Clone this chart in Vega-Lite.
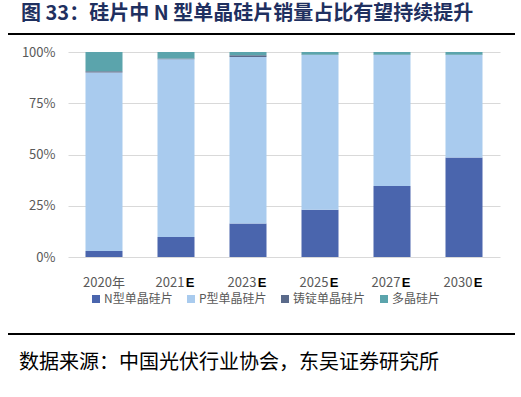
{
  "$schema": "https://vega.github.io/schema/vega-lite/v6.json",
  "padding": {"left": 7, "right": 7, "top": 4, "bottom": 0},
  "spacing": 0,
  "datasets": {
    "shares": [
      {"year": "2020年", "type": "N型单晶硅片", "k": 1, "value": 2.9},
      {"year": "2020年", "type": "P型单晶硅片", "k": 2, "value": 87.1},
      {"year": "2020年", "type": "铸锭单晶硅片", "k": 3, "value": 0.6},
      {"year": "2020年", "type": "多晶硅片", "k": 4, "value": 9.4},
      {"year": "2021", "type": "N型单晶硅片", "k": 1, "value": 9.8},
      {"year": "2021", "type": "P型单晶硅片", "k": 2, "value": 86.7},
      {"year": "2021", "type": "铸锭单晶硅片", "k": 3, "value": 0.3},
      {"year": "2021", "type": "多晶硅片", "k": 4, "value": 3.2},
      {"year": "2023", "type": "N型单晶硅片", "k": 1, "value": 16.3},
      {"year": "2023", "type": "P型单晶硅片", "k": 2, "value": 81.3},
      {"year": "2023", "type": "铸锭单晶硅片", "k": 3, "value": 0.8},
      {"year": "2023", "type": "多晶硅片", "k": 4, "value": 1.6},
      {"year": "2025", "type": "N型单晶硅片", "k": 1, "value": 23.1},
      {"year": "2025", "type": "P型单晶硅片", "k": 2, "value": 75.4},
      {"year": "2025", "type": "铸锭单晶硅片", "k": 3, "value": 0.2},
      {"year": "2025", "type": "多晶硅片", "k": 4, "value": 1.3},
      {"year": "2027", "type": "N型单晶硅片", "k": 1, "value": 34.6},
      {"year": "2027", "type": "P型单晶硅片", "k": 2, "value": 63.9},
      {"year": "2027", "type": "铸锭单晶硅片", "k": 3, "value": 0.2},
      {"year": "2027", "type": "多晶硅片", "k": 4, "value": 1.3},
      {"year": "2030", "type": "N型单晶硅片", "k": 1, "value": 48.5},
      {"year": "2030", "type": "P型单晶硅片", "k": 2, "value": 50.0},
      {"year": "2030", "type": "铸锭单晶硅片", "k": 3, "value": 0.2},
      {"year": "2030", "type": "多晶硅片", "k": 4, "value": 1.3}
    ],
    "suffixes": [
      {"year": "2021", "suffix": "E"},
      {"year": "2023", "suffix": "E"},
      {"year": "2025", "suffix": "E"},
      {"year": "2027", "suffix": "E"},
      {"year": "2030", "suffix": "E"}
    ]
  },
  "vconcat": [
    {
      "width": 432,
      "height": 15,
      "title": {
        "text": "图 33：硅片中 N 型单晶硅片销量占比有望持续提升",
        "orient": "top",
        "anchor": "start",
        "frame": "group",
        "font": "Noto Sans CJK SC",
        "fontSize": 20,
        "fontWeight": "bold",
        "color": "#1f3060",
        "offset": 7,
        "dx": -47
      },
      "data": {"values": [{"a": 0, "b": 1, "v": 0.8}]},
      "mark": {"type": "rule", "strokeWidth": 2, "color": "#000000"},
      "encoding": {
        "x": {"field": "a", "type": "quantitative", "scale": {"domain": [0, 1], "range": [-60, 447]}, "axis": null},
        "x2": {"field": "b"},
        "y": {"field": "v", "type": "quantitative", "scale": {"domain": [0, 1]}, "axis": null}
      }
    },
    {
      "width": 432,
      "height": 205,
      "layer": [
        {
          "data": {"name": "shares"},
          "mark": {"type": "bar"},
          "encoding": {
            "x": {
              "field": "year",
              "type": "nominal",
              "sort": null,
              "scale": {"paddingInner": 0.486, "paddingOuter": 0.243},
              "axis": {
                "title": null,
                "labelAngle": 0,
                "domain": false,
                "ticks": false,
                "labelPadding": 19,
                "labelFont": "Noto Sans CJK SC",
                "labelFontSize": 13,
                "labelColor": "#595959",
                "labelOffset": {"condition": {"test": "datum.value == '2020年'", "value": 0}, "value": -6}
              }
            },
            "y": {
              "field": "value",
              "type": "quantitative",
              "stack": "normalize",
              "scale": {"domain": [0, 1]},
              "axis": {
                "title": null,
                "format": ".0%",
                "values": [0, 0.25, 0.5, 0.75, 1],
                "domain": false,
                "ticks": false,
                "labelPadding": 13,
                "minExtent": 60,
                "labelFont": "Noto Sans CJK SC",
                "labelFontSize": 13,
                "labelColor": "#595959",
                "gridColor": "#d9d9d9",
                "gridWidth": 1
              }
            },
            "color": {
              "field": "type",
              "type": "nominal",
              "scale": {
                "domain": ["N型单晶硅片", "P型单晶硅片", "铸锭单晶硅片", "多晶硅片"],
                "range": ["#4a65ad", "#a9cbee", "#5a6a8a", "#5ba4ac"]
              },
              "legend": {
                "title": null,
                "orient": "none",
                "direction": "horizontal",
                "legendX": 22,
                "legendY": 262,
                "symbolType": "square",
                "symbolSize": 64,
                "symbolStrokeWidth": 0,
                "labelFont": "Noto Sans CJK SC",
                "labelFontSize": 12,
                "labelColor": "#595959",
                "labelOffset": 2,
                "columnPadding": 12
              }
            },
            "order": {"field": "k", "type": "quantitative"}
          }
        },
        {
          "data": {"name": "suffixes"},
          "mark": {"type": "text", "font": "Liberation Sans", "fontWeight": "bold", "fontSize": 13, "color": "#000000", "baseline": "middle", "dx": 14, "dy": 26},
          "encoding": {
            "x": {"field": "year", "type": "nominal", "sort": null},
            "y": {"datum": 0, "type": "quantitative"},
            "text": {"field": "suffix"}
          }
        }
      ]
    },
    {
      "width": 432,
      "height": 55,
      "title": {
        "text": "数据来源：中国光伏行业协会，东吴证券研究所",
        "orient": "bottom",
        "anchor": "start",
        "frame": "group",
        "font": "Noto Sans CJK SC",
        "fontSize": 20,
        "fontWeight": "normal",
        "color": "#000000",
        "offset": 8,
        "dx": -49
      },
      "data": {"values": [{"a": 0, "b": 1, "v": 0.2}]},
      "mark": {"type": "rule", "strokeWidth": 2, "color": "#000000"},
      "encoding": {
        "x": {"field": "a", "type": "quantitative", "scale": {"domain": [0, 1], "range": [-60, 447]}, "axis": null},
        "x2": {"field": "b"},
        "y": {"field": "v", "type": "quantitative", "scale": {"domain": [0, 1]}, "axis": null}
      }
    }
  ],
  "config": {"view": {"stroke": null}}
}
